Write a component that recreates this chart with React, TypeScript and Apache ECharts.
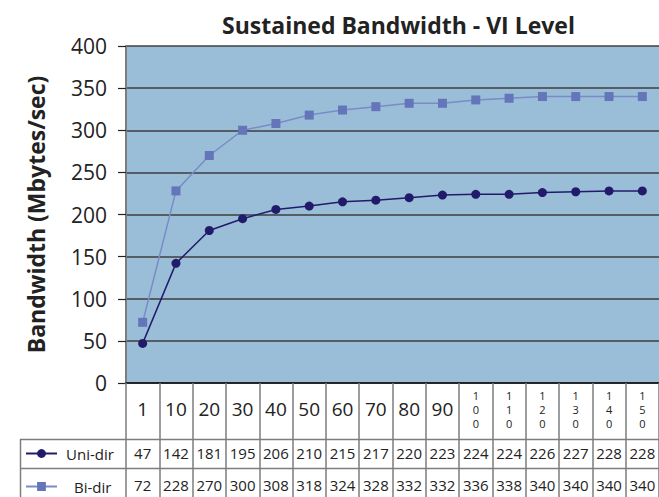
import { useEffect, useRef } from "react";
import * as echarts from "echarts";

const categories = ["1", "10", "20", "30", "40", "50", "60", "70", "80", "90", "100", "110", "120", "130", "140", "150"];
const uniDir = [47, 142, 181, 195, 206, 210, 215, 217, 220, 223, 224, 224, 226, 227, 228, 228];
const biDir = [72, 228, 270, 300, 308, 318, 324, 328, 332, 332, 336, 338, 340, 340, 340, 340];
const yMin = 0;
const yMax = 400;
const yStep = 50;

const FONT = "'Open Sans', 'Noto Sans', sans-serif";

export default function App() {
  const ref = useRef<HTMLDivElement>(null);
  useEffect(() => {
    if (!ref.current) return;
    const chart = echarts.init(ref.current, undefined, { renderer: "svg" });
    const gridLeft = 126;
    const gridTop = 46;
    const gridW = 535;
    const gridH = 337;
    const zeroY = gridTop + gridH;
    const lineGray = "#7d7d7d";
    chart.setOption({
      animation: false,
      textStyle: { fontFamily: FONT },
      title: {
        text: "Sustained Bandwidth - VI Level",
        left: gridLeft + gridW / 2,
        textAlign: "center",
        top: 8,
        textStyle: { fontFamily: FONT, fontSize: 23, fontWeight: "bold", color: "#222" },
      },
      grid: {
        left: gridLeft,
        top: gridTop,
        width: gridW,
        height: gridH,
        show: true,
        backgroundColor: "#9abdd8",
        borderWidth: 0,
      },
      legend: [
        {
          data: ["Uni-dir"],
          left: 25,
          top: 446,
          padding: 0,
          itemWidth: 31,
          itemHeight: 11,
          textStyle: { fontFamily: FONT, fontSize: 15, color: "#222", padding: [0, 0, 0, 4] },
        },
        {
          data: ["Bi-dir"],
          left: 25,
          top: 479,
          padding: 0,
          itemWidth: 31,
          itemHeight: 11,
          textStyle: { fontFamily: FONT, fontSize: 15, color: "#222", padding: [0, 0, 0, 12] },
        },
      ],
      xAxis: [
        {
          type: "category",
          data: categories,
          boundaryGap: true,
          position: "bottom",
          axisLine: { show: true, lineStyle: { color: "#111", width: 1.5 } },
          axisTick: { show: true, interval: 0, length: 114, lineStyle: { color: lineGray, width: 1.5 } },
          axisLabel: {
            interval: 0,
            margin: 26,
            verticalAlign: "middle",
            fontFamily: FONT,
            fontSize: 19,
            color: "#222",
            formatter: (v: string) =>
              v.length > 2 ? v.split("").map((c) => `{s|${c}}`).join("\n") : v,
            rich: { s: { fontFamily: FONT, fontSize: 11, lineHeight: 14, color: "#222" } },
          },
          splitLine: { show: false },
        },
        {
          type: "category",
          data: uniDir.map(String),
          position: "bottom",
          offset: 70,
          axisLine: { show: false },
          axisTick: { show: false },
          axisLabel: { interval: 0, margin: 0, verticalAlign: "middle", fontFamily: FONT, fontSize: 15, color: "#222" },
        },
        {
          type: "category",
          data: biDir.map(String),
          position: "bottom",
          offset: 102,
          axisLine: { show: false },
          axisTick: { show: false },
          axisLabel: { interval: 0, margin: 0, verticalAlign: "middle", fontFamily: FONT, fontSize: 15, color: "#222" },
        },
      ],
      yAxis: {
        type: "value",
        min: yMin,
        max: yMax,
        interval: yStep,
        name: "Bandwidth (Mbytes/sec)",
        nameLocation: "middle",
        nameGap: 79,
        nameTextStyle: { fontFamily: FONT, fontSize: 23, fontWeight: "bold", color: "#222" },
        axisLine: { show: true, lineStyle: { color: lineGray, width: 2 } },
        axisTick: { show: true, length: 8, lineStyle: { color: "#222", width: 1.2 } },
        axisLabel: { margin: 19, fontFamily: FONT, fontSize: 21, color: "#222" },
        splitLine: { show: true, lineStyle: { color: "#3f3f3f", width: 1.5 } },
      },
      series: [
        {
          name: "Uni-dir",
          type: "line",
          data: uniDir,
          xAxisIndex: 0,
          symbol: "circle",
          symbolSize: 9,
          lineStyle: { color: "#221b6c", width: 1.5 },
          itemStyle: { color: "#221b6c" },
        },
        {
          name: "Bi-dir",
          type: "line",
          data: biDir,
          xAxisIndex: 0,
          symbol: "rect",
          symbolSize: 9,
          lineStyle: { color: "#7a8bc7", width: 1.5 },
          itemStyle: { color: "#6476b9" },
        },
      ],
      graphic: [
        {
          type: "line",
          shape: { x1: 20, y1: 439.5, x2: gridLeft + gridW, y2: 439.5 },
          style: { stroke: lineGray, lineWidth: 1.5 },
        },
        {
          type: "line",
          shape: { x1: 20, y1: 468.5, x2: gridLeft + gridW, y2: 468.5 },
          style: { stroke: lineGray, lineWidth: 1.5 },
        },
        {
          type: "line",
          shape: { x1: 20.5, y1: 439, x2: 20.5, y2: zeroY + 114 },
          style: { stroke: lineGray, lineWidth: 1.5 },
        },
      ],
    });
    return () => chart.dispose();
  }, []);
  return (
    <div
      ref={ref}
      style={{ position: "absolute", left: 0, top: 0, width: 659, height: 497, background: "#fff" }}
    />
  );
}
